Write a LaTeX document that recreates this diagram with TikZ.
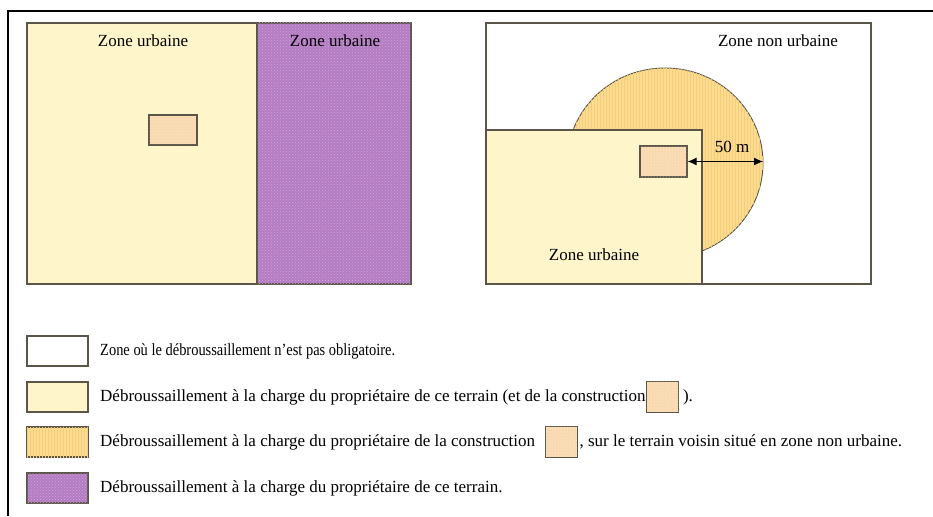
\documentclass[tikz,border=0pt]{standalone}
\usepackage{fontspec}
\setmainfont{Liberation Serif}
\usetikzlibrary{positioning,patterns,arrows.meta}
\definecolor{creme}{HTML}{FEF6CA}
\definecolor{mauve}{HTML}{B47CC2}
\definecolor{mauveclair}{HTML}{CFA3DC}
\definecolor{orangeclair}{HTML}{FCDC90}
\definecolor{orangeraie}{HTML}{F5CC78}
\definecolor{peche}{HTML}{F9D9B2}
\definecolor{bord}{HTML}{5A5548}
\tikzset{
  zone/.style={draw=bord,line width=1.1pt},
  creux/.style={zone,fill=white},
  urbain/.style={zone,fill=creme},
  violet/.style={zone,fill=mauve,postaction={pattern=crosshatch dots,pattern color=mauveclair}},
  cercle/.style={zone,line width=0.9pt,fill=orangeclair,postaction={pattern=vertical lines,pattern color=orangeraie}},
  bati/.style={zone,fill=peche,postaction={pattern=dots,pattern color=creme}},
  etiq/.style={inner sep=0pt,font=\fontsize{17}{19}\selectfont},
  legende/.style={etiq,anchor=west},
  case/.style={draw=bord,line width=1.1pt,minimum width=61pt,minimum height=30pt,inner sep=0pt},
  petite/.style={draw=bord,line width=1.1pt,minimum width=32pt,minimum height=31pt,inner sep=0pt,fill=peche,postaction={pattern=dots,pattern color=creme}}
}
\begin{document}
\begin{tikzpicture}[x=1pt,y=-1pt]
		\useasboundingbox (0,0) rectangle (933,516);
		%
		\draw[line width=2pt] (8,516) -- (8,11) -- (933,11);
		%
		\draw[urbain] (27,23) rectangle (257,284);
		\draw[violet] (257,23) rectangle (411,284);
		\draw[bati] (149,115) rectangle (197,145);
		\node[etiq] (zu1) at (143,41) {Zone urbaine};
		\node[etiq] (zu2) at (335,41) {Zone urbaine};
		%
		\draw[creux] (486,23) rectangle (871,284);
		\draw[cercle] (665,163) ellipse [x radius=98, y radius=95];
		\draw[urbain] (486,130) rectangle (702,284);
		\node[zone,bati,minimum width=47pt,minimum height=31pt,inner sep=0pt] (bat) at (663.5,161.5) {};
		\coordinate (bord50) at (763,161.5);
		\draw[{Latex[length=9pt,width=8pt]}-{Latex[length=9pt,width=8pt]},line width=1.1pt] (bat.east) -- (bord50);
		\node[etiq] (dist) at (732,147) {50 m};
		\node[etiq] (znu) at (778,41) {Zone non urbaine};
		\node[etiq] (zu3) at (594,255) {Zone urbaine};
		%
		\node[case,fill=white] (c1) at (57.5,351) {};
		\node[case,fill=creme] (c2) at (57.5,397) {};
		\node[case,fill=orangeclair,postaction={pattern=vertical lines,pattern color=orangeraie}] (c3) at (57.5,442) {};
		\node[case,fill=mauve,postaction={pattern=crosshatch dots,pattern color=mauveclair}] (c4) at (57.5,488) {};
		%
		\node[legende] (t1) at (100,351) {\scalebox{0.85}[1]{Zone où le débroussaillement n’est pas obligatoire.}};
		\node[legende] (t2) at (100,397) {Débroussaillement à la charge du propriétaire de ce terrain (et de la construction};
		\node[petite,right=0pt of t2] (p2) {};
		\node[legende,right=4pt of p2] (t2b) {).};
		\node[legende] (t3) at (100,442) {Débroussaillement à la charge du propriétaire de la construction};
		\node[petite,right=10pt of t3] (p3) {};
		\node[legende,right=1pt of p3] (t3b) {, sur le terrain voisin situé en zone non urbaine.};
		\node[legende] (t4) at (100,488) {Débroussaillement à la charge du propriétaire de ce terrain.};
\end{tikzpicture}
\end{document}
